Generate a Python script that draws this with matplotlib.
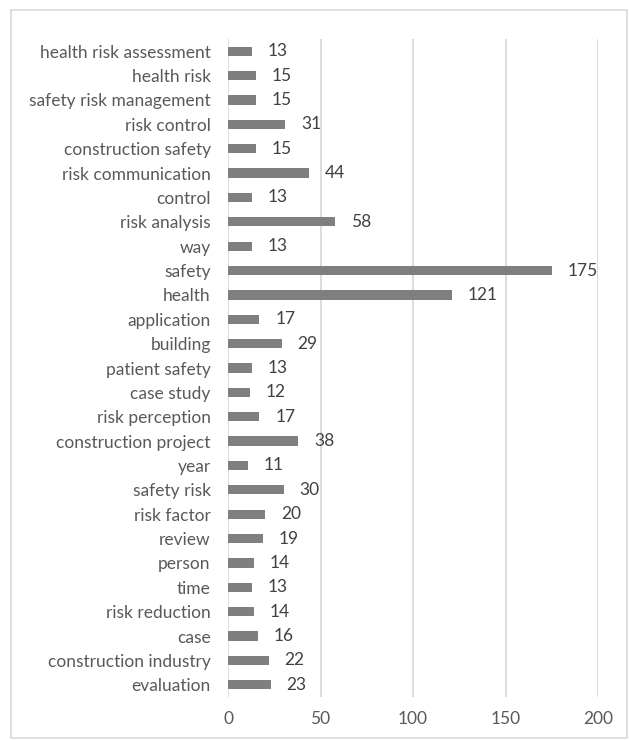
import matplotlib.pyplot as plt
from matplotlib.patches import Rectangle

plt.rcParams['font.family'] = ['Lato', 'DejaVu Sans']

# keywords, listed bottom to top
terms = ["evaluation", "construction industry", "case", "risk reduction", "time",
         "person", "review", "risk factor", "safety risk", "year",
         "construction project", "risk perception", "case study", "patient safety",
         "building", "application", "health", "safety", "way", "risk analysis",
         "control", "risk communication", "construction safety", "risk control",
         "safety risk management", "health risk", "health risk assessment"]
counts = [23, 22, 16, 14, 13, 14, 19, 20, 30, 11, 38, 17, 12, 13, 29, 17,
          121, 175, 13, 58, 13, 44, 15, 31, 15, 15, 13]
xticks = [0, 50, 100, 150, 200]

fig = plt.figure(figsize=(6.29, 7.4), dpi=100)
fig.patches.append(Rectangle((11 / 629, 2 / 740), 616 / 629, 728 / 740,
                             transform=fig.transFigure, fill=False,
                             edgecolor='#d9d9d9', linewidth=1.2))
ax = fig.add_axes([228 / 629, 43 / 740, 370 / 629, 658 / 740])

y = range(len(terms))
ax.barh(y, counts, height=0.38, color='#7f7f7f', zorder=3)
for i, v in zip(y, counts):
    ax.text(v + 8.5, i, str(v), va='center', ha='left', fontsize=12.5, color='#404040')

ax.set_xlim(0, 200)
ax.set_ylim(-0.5, len(terms) - 0.5)
ax.set_xticks(xticks)
ax.set_yticks(list(y))
ax.set_yticklabels(terms)
ax.grid(axis='x', color='#d9d9d9', linewidth=1.3, zorder=0)
for s in ax.spines.values():
    s.set_visible(False)
ax.tick_params(length=0, labelsize=12.5, colors='#595959')
ax.tick_params(axis='x', pad=10)
ax.tick_params(axis='y', pad=12.5)

fig.savefig('out.png', dpi=100)
